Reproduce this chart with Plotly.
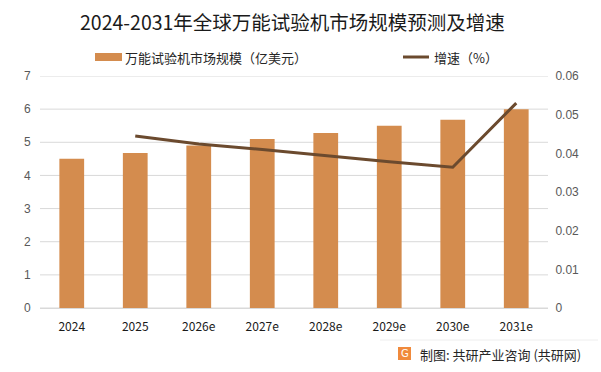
import plotly.graph_objects as go

categories = ["2024", "2025", "2026e", "2027e", "2028e", "2029e", "2030e", "2031e"]
market_size = [4.5, 4.68, 4.9, 5.1, 5.28, 5.5, 5.68, 6.0]
growth = [None, 0.0445, 0.0424, 0.0410, 0.0394, 0.0378, 0.0364, 0.0530]
left_ticks = [0, 1, 2, 3, 4, 5, 6, 7]
right_ticks = [0, 0.01, 0.02, 0.03, 0.04, 0.05, 0.06]
right_tick_text = ["0", "0.01", "0.02", "0.03", "0.04", "0.05", "0.06"]

title_text = "2024-2031年全球万能试验机市场规模预测及增速"
bar_name = "万能试验机市场规模（亿美元）"
line_name = "增速（%）"
source_text = "制图: 共研产业咨询 (共研网)"

BAR_COLOR = "#D48C4E"
LINE_COLOR = "#6B4A2E"
GRID = "#D9D9D9"
FONT = "Noto Sans CJK SC"

fig = go.Figure()
fig.add_trace(go.Bar(x=categories, y=market_size, name=bar_name,
                     marker=dict(color=BAR_COLOR, line=dict(width=0)),
                     width=0.39, yaxis="y", showlegend=False))
fig.add_trace(go.Scatter(x=categories, y=growth, name=line_name, mode="lines",
                         line=dict(color=LINE_COLOR, width=3), yaxis="y2",
                         showlegend=False, connectgaps=False))

W, H = 601, 372
ml, mr, mt, mb = 40, 53, 76, 64


def pxa(x):
    return (x - ml) / (W - ml - mr)


def pya(y):
    return (H - mb - y) / (H - mt - mb)


# horizontal gridlines at the left-axis tick values
shapes = [
    dict(type="line", xref="paper", yref="y", x0=0, x1=1, y0=v, y1=v,
         line=dict(color=GRID, width=1), layer="below")
    for v in left_ticks
]
shapes += [
    dict(type="rect", xref="paper", yref="paper",
         x0=pxa(95), x1=pxa(122), y0=pya(61), y1=pya(53),
         fillcolor=BAR_COLOR, line=dict(width=0)),
    dict(type="line", xref="paper", yref="paper",
         x0=pxa(403), x1=pxa(429), y0=pya(57), y1=pya(57),
         line=dict(color=LINE_COLOR, width=3)),
    dict(type="line", xref="paper", yref="paper",
         x0=pxa(380), x1=pxa(598), y0=pya(340), y1=pya(340),
         line=dict(color="#EEEEEE", width=1)),
    dict(type="rect", xref="paper", yref="paper",
         x0=pxa(398), x1=pxa(411), y0=pya(360), y1=pya(347),
         fillcolor="#F08A3C", line=dict(width=0)),
]

annotations = [
    dict(text=title_text, xref="paper", yref="paper", x=pxa(292), y=pya(21),
         showarrow=False, xanchor="center", yanchor="middle",
         font=dict(family=FONT, size=19.5, color="#1A1A1A")),
    dict(text=bar_name, xref="paper", yref="paper", x=pxa(123), y=pya(57),
         showarrow=False, xanchor="left", yanchor="middle",
         font=dict(family=FONT, size=13, color="#262626")),
    dict(text=line_name, xref="paper", yref="paper", x=pxa(432), y=pya(57),
         showarrow=False, xanchor="left", yanchor="middle",
         font=dict(family=FONT, size=13, color="#262626")),
    dict(text="G", xref="paper", yref="paper", x=pxa(404.5), y=pya(353.5),
         showarrow=False, xanchor="center", yanchor="middle",
         font=dict(family="DejaVu Sans", size=10, color="white")),
    dict(text=source_text, xref="paper", yref="paper", x=pxa(418), y=pya(354),
         showarrow=False, xanchor="left", yanchor="middle",
         font=dict(family=FONT, size=13, color="#262626")),
]

fig.update_layout(
    width=W, height=H,
    margin=dict(l=ml, r=mr, t=mt, b=mb, pad=0),
    paper_bgcolor="white", plot_bgcolor="white",
    font=dict(family=FONT),
    xaxis=dict(type="category", showgrid=False, showline=True, linecolor=GRID,
               linewidth=1, ticks="outside", ticklen=8, tickcolor="rgba(0,0,0,0)",
               tickfont=dict(family=FONT, size=12, color="#1A1A1A")),
    yaxis=dict(range=[0, 7], tickmode="array", tickvals=left_ticks,
               showgrid=False, zeroline=False, showline=False,
               ticks="outside", ticklen=6, tickcolor="rgba(0,0,0,0)",
               tickfont=dict(family="Liberation Sans", size=12, color="#595959")),
    yaxis2=dict(range=[0, 0.06], tickmode="array", tickvals=right_ticks,
                ticktext=right_tick_text,
                overlaying="y", side="right", showgrid=False, zeroline=False,
                showline=False, ticks="outside", ticklen=4,
                tickcolor="rgba(0,0,0,0)",
                tickfont=dict(family="Liberation Sans", size=12, color="#595959")),
    shapes=shapes, annotations=annotations,
    showlegend=False,
)

fig.write_html("out.html", config={"displayModeBar": False},
               post_script="document.body.style.margin='0';document.body.style.padding='0';")
